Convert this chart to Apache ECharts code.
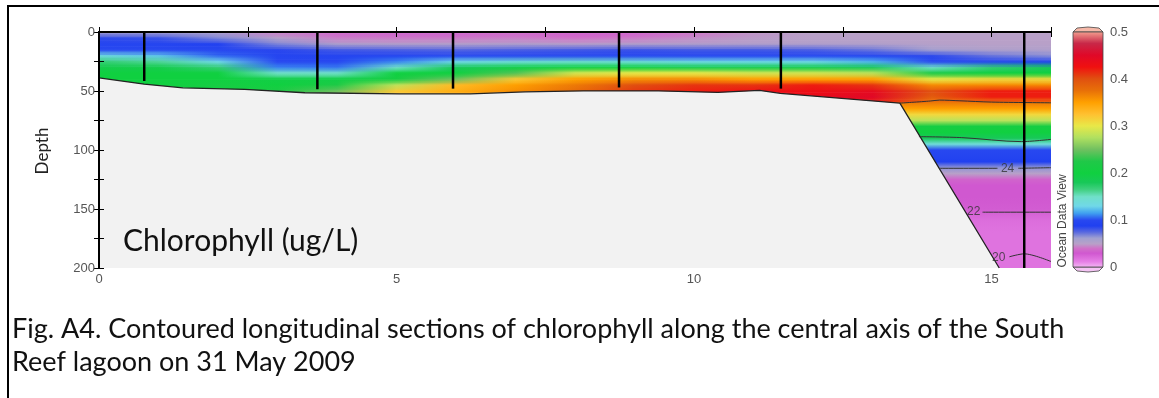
<!DOCTYPE html>
<html><head><meta charset="utf-8">
<script src="https://cdn.jsdelivr.net/npm/echarts@6/dist/echarts.min.js"></script>
<style>html,body{margin:0;padding:0;background:#fff}#c{width:1159px;height:398px}</style>
</head><body><div id="c"></div><script>
// ---------- DATA ----------
const colX = [0,1,2,3,4,5,6,7,8,9,10,11,12,13,14,15,16];
const rowDepths = [0,5,10,15,20,25,30,35,40,45,50,55,60];
const chl_d0  = [0.058,0.058,0.055,0.042,0.034,0.033,0.033,0.035,0.032,0.032,0.040,0.047,0.050,0.050,0.050,0.050,0.050];
const chl_d5  = [0.085,0.082,0.068,0.052,0.043,0.042,0.042,0.043,0.040,0.042,0.046,0.049,0.050,0.050,0.050,0.050,0.050];
const chl_d10 = [0.095,0.095,0.090,0.068,0.055,0.052,0.052,0.053,0.050,0.052,0.053,0.053,0.053,0.053,0.051,0.050,0.050];
const chl_d15 = [0.100,0.100,0.098,0.086,0.080,0.078,0.076,0.078,0.080,0.082,0.080,0.080,0.078,0.072,0.060,0.055,0.054];
const chl_d20 = [0.135,0.125,0.105,0.095,0.094,0.094,0.095,0.095,0.096,0.096,0.096,0.096,0.095,0.094,0.085,0.072,0.066];
const chl_d25 = [0.170,0.160,0.130,0.100,0.098,0.110,0.130,0.140,0.145,0.140,0.132,0.130,0.130,0.120,0.100,0.095,0.092];
const chl_d30 = [0.190,0.190,0.170,0.110,0.108,0.150,0.180,0.195,0.200,0.200,0.190,0.190,0.190,0.180,0.150,0.170,0.180];
const chl_d35 = [0.200,0.200,0.200,0.150,0.150,0.200,0.200,0.240,0.290,0.300,0.300,0.290,0.290,0.280,0.220,0.200,0.200];
const chl_d40 = [0.200,0.200,0.200,0.195,0.195,0.210,0.250,0.320,0.350,0.360,0.360,0.350,0.350,0.350,0.300,0.310,0.310];
const chl_d45 = [0.200,0.200,0.210,0.200,0.220,0.280,0.330,0.350,0.370,0.400,0.410,0.410,0.420,0.410,0.360,0.360,0.360];
const chl_d50 = [0.200,0.200,0.210,0.220,0.250,0.320,0.340,0.360,0.380,0.410,0.420,0.430,0.430,0.440,0.400,0.420,0.420];
const chl_d55 = [0.200,0.200,0.210,0.220,0.250,0.320,0.340,0.360,0.380,0.410,0.420,0.430,0.440,0.450,0.390,0.420,0.420];
const chl_d60 = [0.200,0.200,0.210,0.220,0.250,0.320,0.340,0.360,0.380,0.410,0.420,0.430,0.440,0.420,0.370,0.370,0.370];
const chlRows = [chl_d0,chl_d5,chl_d10,chl_d15,chl_d20,chl_d25,chl_d30,chl_d35,chl_d40,chl_d45,chl_d50,chl_d55,chl_d60];

const deepDepths = [60,65,70,75,80,85,90,95,100,105,110,115,120,125,130,140,150,160,170,180,190,200];
const deepChl    = [0.37,0.35,0.31,0.28,0.21,0.20,0.18,0.14,0.10,0.095,0.09,0.065,0.05,0.035,0.03,0.03,0.028,0.02,0.018,0.018,0.018,0.018];

const bottomX = [0,0.76,1.41,2.45,3.46,5.06,6.24,7.16,8.14,9.4,10.4,11.1,11.45,13.46,15.13];
const bottomD = [38.8,44.2,47.3,48.7,51.5,52.4,52.4,50.7,49.9,49.9,51.2,49.5,52,60.3,200];

const stationX = [0.76,3.67,5.95,8.74,11.46,15.55];
const stationD = [41.5,48.5,48,47,48,200];

const contourA  = [[13.46,60.3],[13.97,58.5],[14.13,57.7],[14.47,58.3],[15.0,59.4],[16,60]];
const contourB  = [[13.78,88.7],[14.5,89.5],[15.5,92.9],[16,91]];
const contour24a = [[14.13,115.5],[15.1,115.5]];
const contour24b = [[15.45,115.5],[16,115]];
const contour22 = [[14.85,152.7],[16,152.7]];
const contour20 = [[15.3,190.5],[15.55,188],[16,194.5]];
const contourLabels = [[15.27,115.5,'24'],[14.7,152.7,'22'],[15.12,191.5,'20']];

// colour scale (value stops and colours)
const cmapVals   = [0,0.012,0.03,0.04,0.05,0.062,0.075,0.088,0.1,0.115,0.13,0.15,0.165,0.18,0.2,0.225,0.25,0.275,0.3,0.325,0.35,0.375,0.4,0.425,0.45,0.475,0.5];
const cmapColors = ['#f4b8f4','#e680e6','#d058d0','#d070c8','#b8a0c8','#a0a0d0','#5868e0','#2040f0','#2848f0','#40a0f0','#70d8e8','#70e0c8','#40d080','#18c858','#10d040','#20c848','#70c060','#b0e060','#e8e848','#ffc030','#ffa000','#e87008','#e05010','#f01010','#e00828','#c82848','#f4a090'];
const cMax = 0.5;

// ---------- HELPERS ----------
function colorOf(v){
  v = Math.max(0, Math.min(cMax, v));
  for (let k = 1; k < cmapVals.length; k++) {
    if (v <= cmapVals[k]) {
      const t = (v - cmapVals[k-1]) / (cmapVals[k] - cmapVals[k-1]);
      return echarts.color.lerp(t, [cmapColors[k-1], cmapColors[k]]);
    }
  }
  return cmapColors[cmapColors.length-1];
}
const xMin = colX[0], xMax = colX[colX.length-1];
const nRows = rowDepths.length;
const lastHalf = (rowDepths[nRows-1]-rowDepths[nRows-2]) / 2;
const SUB = 5; // rendering sub-bands between two measured rows
function rowGradient(i){
  return new echarts.graphic.LinearGradient(0,0,1,0,
    colX.map((x,j) => ({offset:(x-xMin)/(xMax-xMin), color:colorOf(chlRows[i][j])})));
}

const chart = echarts.init(document.getElementById('c'), null, {renderer:'canvas'});
const tickFont = {fontFamily:'Liberation Sans', fontSize:13, color:'#555'};
const axLine = {show:true, lineStyle:{color:'#000', width:2}};
const axTick = {show:true, length:5, lineStyle:{color:'#000', width:1}};

const option = {
  animation:false,
  backgroundColor:'#fff',
  grid:[
    {left:99, top:32, width:952, height:236},
    {left:1073, top:32, width:30, height:235}
  ],
  xAxis:[
    {gridIndex:0, type:'value', min:0, max:16, interval:2.5, position:'bottom', z:10,
     axisLine:axLine, axisTick:axTick, splitLine:{show:false},
     axisLabel:Object.assign({margin:5, formatter:v => (v % 5 === 0 ? String(v) : '')}, tickFont)},
    {gridIndex:0, type:'value', min:0, max:16, interval:2.5, position:'top', z:10,
     axisLine:axLine, axisTick:axTick, splitLine:{show:false}, axisLabel:{show:false}},
    {gridIndex:1, type:'value', min:0, max:1, show:false}
  ],
  yAxis:[
    {gridIndex:0, type:'value', min:0, max:200, interval:25, inverse:true, position:'left', z:10,
     axisLine:axLine, axisTick:axTick, splitLine:{show:false},
     axisLabel:Object.assign({margin:4, formatter:v => (v % 50 === 0 ? String(v) : '')}, tickFont)},
    {gridIndex:0, type:'value', min:0, max:200, interval:25, inverse:true, position:'right', z:10,
     axisLine:axLine, axisTick:axTick, splitLine:{show:false}, axisLabel:{show:false}},
    {gridIndex:1, type:'value', min:0, max:0.5, interval:0.1, position:'right',
     axisLine:{show:false}, axisTick:{show:false}, splitLine:{show:false},
     axisLabel:Object.assign({margin:7}, tickFont)}
  ],
  series:[
    { // shallow field: one item per measured depth row, drawn as horizontal colour ramps
      type:'custom', xAxisIndex:0, yAxisIndex:0, z:1, clip:true, silent:true,
      data: rowDepths.map(d => [xMin, d]),
      renderItem:(params, api) => {
        const i = params.dataIndex;
        const d = api.value(1);
        const children = [];
        if (i === nRows - 1) {
          const p0 = api.coord([xMin, d]), p1 = api.coord([xMax, d + lastHalf]);
          children.push({type:'rect', shape:{x:p0[0], y:p0[1], width:p1[0]-p0[0], height:p1[1]-p0[1]},
                         style:{fill:rowGradient(i)}});
        } else {
          const dn = rowDepths[i+1];
          for (let k = 0; k < SUB; k++) {
            const a = d + (dn - d) * k / SUB, b = d + (dn - d) * (k + 1) / SUB;
            const p0 = api.coord([xMin, a]), p1 = api.coord([xMax, b]);
            const sh = {x:p0[0], y:p0[1], width:p1[0]-p0[0], height:p1[1]-p0[1]+0.6};
            children.push({type:'rect', shape:sh, style:{fill:rowGradient(i)}});
            children.push({type:'rect', shape:Object.assign({}, sh), style:{fill:rowGradient(i+1), opacity:(k+0.5)/SUB}});
          }
        }
        return {type:'group', children};
      }
    },
    { // deep layered field
      type:'custom', xAxisIndex:0, yAxisIndex:0, z:2, clip:true, silent:true,
      data:[[13.3, deepDepths[0]]],
      renderItem:(params, api) => {
        const d0 = deepDepths[0], d1 = deepDepths[deepDepths.length-1];
        const p0 = api.coord([api.value(0), d0]), p1 = api.coord([xMax, d1]);
        const stops = deepDepths.map((d,k) => ({offset:(d-d0)/(d1-d0), color:colorOf(deepChl[k])}));
        return {type:'rect', shape:{x:p0[0], y:p0[1], width:p1[0]-p0[0], height:p1[1]-p0[1]},
                style:{fill:new echarts.graphic.LinearGradient(0,0,0,1,stops)}};
      }
    },
    { // seabed
      type:'custom', xAxisIndex:0, yAxisIndex:0, z:3, clip:true, silent:true,
      data:[[0,200]],
      renderItem:(params, api) => {
        const pts = bottomX.map((x,i) => api.coord([x, bottomD[i]]));
        pts.push(api.coord([0, 200]));
        return {type:'polygon', shape:{points:pts}, style:{fill:'#f2f2f2'}};
      }
    },
    { type:'line', xAxisIndex:0, yAxisIndex:0, z:4, symbol:'none', silent:true,
      data: bottomX.map((x,i) => [x, bottomD[i]]),
      lineStyle:{color:'#222', width:1.3} },
    ...[contourA, contourB, contour24a, contour24b, contour22, contour20].map(c => ({
      type:'line', xAxisIndex:0, yAxisIndex:0, z:4, symbol:'none', silent:true, smooth:0.3,
      data:c, lineStyle:{color:'#333', width:1}
    })),
    { type:'scatter', xAxisIndex:0, yAxisIndex:0, z:6, symbolSize:0, silent:true,
      data: contourLabels,
      label:{show:true, position:'inside', formatter:p => p.value[2], color:'#333', fontSize:12, fontFamily:'Liberation Sans'} },
    { // station casts
      type:'custom', xAxisIndex:0, yAxisIndex:0, z:5, clip:true, silent:true,
      data: stationX.map((x,i) => [x, stationD[i]]),
      renderItem:(params, api) => {
        const a = api.coord([api.value(0), 0]), b = api.coord([api.value(0), api.value(1)]);
        return {type:'line', shape:{x1:a[0], y1:a[1], x2:b[0], y2:b[1]}, style:{stroke:'#000', lineWidth:2.5}};
      }
    },
    { // colour bar
      type:'custom', xAxisIndex:2, yAxisIndex:2, silent:true,
      data:[[0,0]],
      renderItem:(params, api) => {
        const pTop = api.coord([0, cMax]), pBot = api.coord([1, 0]);
        const x0 = pTop[0], x1 = pBot[0], yT = pTop[1], yB = pBot[1], xm = (x0+x1)/2;
        const stops = cmapVals.map((v,k) => ({offset:v/cMax, color:cmapColors[k]}));
        return {type:'group', children:[
          {type:'polygon', shape:{points:[[x0,yT],[x0+4,yT-4],[xm,yT-5],[x1-4,yT-4],[x1,yT]]}, style:{fill:'#f6b8a8', stroke:'#444', lineWidth:0.8}},
          {type:'polygon', shape:{points:[[x0,yB],[x0+4,yB+4],[xm,yB+5],[x1-4,yB+4],[x1,yB]]}, style:{fill:'#f4c4f4', stroke:'#444', lineWidth:0.8}},
          {type:'rect', shape:{x:x0, y:yT, width:x1-x0, height:yB-yT},
           style:{fill:new echarts.graphic.LinearGradient(0,1,0,0,stops), stroke:'#444', lineWidth:0.8}}
        ]};
      }
    }
  ],
  graphic:[
    {type:'line', shape:{x1:8, y1:6, x2:1159, y2:6}, style:{stroke:'#000', lineWidth:2}},
    {type:'line', shape:{x1:8, y1:5, x2:8, y2:398}, style:{stroke:'#000', lineWidth:2}},
    {type:'text', x:43, y:151, rotation:Math.PI/2,
     style:{text:'Depth', fontFamily:'Lato', fontSize:17, fill:'#222', textAlign:'center', textVerticalAlign:'middle'}},
    {type:'text', x:1063, y:221, rotation:Math.PI/2, z:20,
     style:{text:'Ocean Data View', fontFamily:'Liberation Sans', fontSize:12, fill:'#444', textAlign:'center', textVerticalAlign:'middle'}},
    {type:'text', x:123, y:241, z:20,
     style:{text:'Chlorophyll (ug/L)', fontFamily:'Lato', fontSize:30, fill:'#111', textAlign:'left', textVerticalAlign:'middle'}},
    {type:'text', x:12, y:329,
     style:{text:'Fig. A4. Contoured longitudinal sections of chlorophyll along the central axis of the South', fontFamily:'Lato', fontSize:27, fill:'#111', textAlign:'left', textVerticalAlign:'middle'}},
    {type:'text', x:12, y:362,
     style:{text:'Reef lagoon on 31 May 2009', fontFamily:'Lato', fontSize:27, fill:'#111', textAlign:'left', textVerticalAlign:'middle'}}
  ]
};
chart.setOption(option);
</script></body></html>
